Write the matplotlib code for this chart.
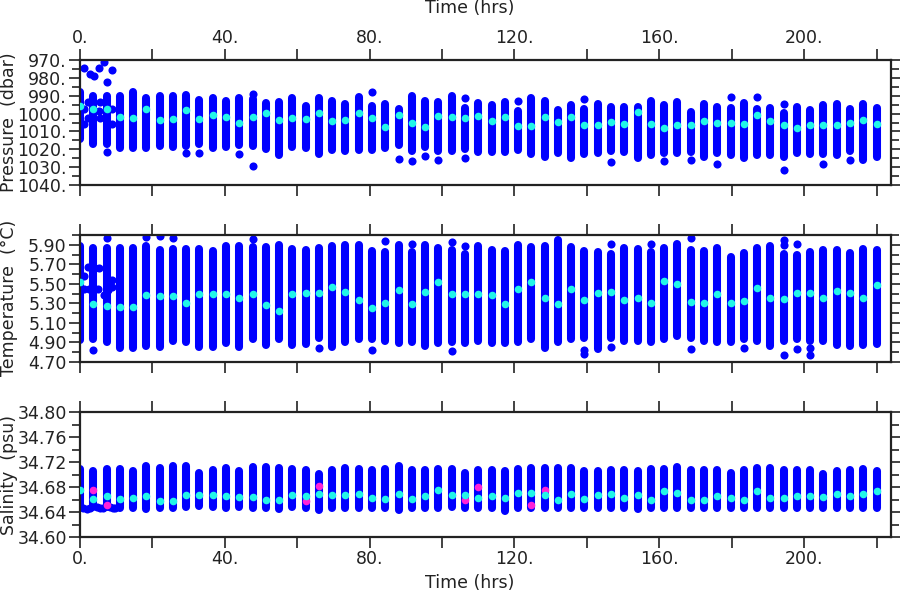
import matplotlib
matplotlib.use('Agg')
import matplotlib.pyplot as plt
from matplotlib.ticker import MultipleLocator, FuncFormatter

# profile times (hrs)
times = [0.0, 3.67, 7.33, 11.0, 14.67, 18.33, 22.0, 25.67, 29.33, 33.0,
         36.67, 40.33, 44.0, 47.67, 51.33, 55.0, 58.67, 62.33, 66.0, 69.67,
         73.33, 77.0, 80.67, 84.33, 88.0, 91.67, 95.33, 99.0, 102.67, 106.33,
         110.0, 113.67, 117.33, 121.0, 124.67, 128.33, 132.0, 135.67, 139.33, 143.0,
         146.67, 150.33, 154.0, 157.67, 161.33, 165.0, 168.67, 172.33, 176.0, 179.67,
         183.33, 187.0, 190.67, 194.33, 198.0, 201.67, 205.33, 209.0, 212.67, 216.33,
         220.0]

# pressure: shallowest / deepest of the main column, and mean
p_top = [988.1, 990.3, 990.3, 990.3, 988.1, 991.5, 990.0, 990.3, 989.6, 992.2,
         991.1, 993.0, 991.1, 992.0, 994.1, 993.7, 991.5, 995.9, 991.5, 993.0,
         994.8, 990.7, 995.6, 994.5, 997.4, 990.0, 993.0, 993.7, 990.0, 997.1,
         994.1, 995.2, 993.3, 998.4, 991.1, 993.0, 997.8, 995.2, 997.4, 994.8,
         996.3, 996.3, 996.3, 993.0, 995.2, 993.7, 998.9, 994.5, 996.3, 997.1,
         994.1, 997.4, 996.7, 999.7, 996.3, 998.2, 995.2, 994.8, 997.4, 994.8,
         996.7]
p_bot = [1014.4, 1017.0, 1017.0, 1019.1, 1019.1, 1019.1, 1018.0, 1018.8, 1018.2, 1017.2,
         1019.1, 1018.8, 1017.8, 1018.2, 1020.1, 1023.2, 1018.8, 1019.5, 1022.5, 1020.2,
         1021.0, 1020.6, 1020.6, 1019.5, 1017.6, 1021.0, 1018.7, 1021.0, 1021.0, 1020.0,
         1021.3, 1021.3, 1021.3, 1020.6, 1022.8, 1024.3, 1022.1, 1025.1, 1022.5, 1022.1,
         1021.0, 1021.7, 1024.7, 1023.2, 1021.9, 1022.1, 1021.3, 1024.3, 1021.9, 1023.2,
         1025.1, 1023.2, 1023.2, 1024.3, 1022.1, 1022.8, 1022.8, 1023.2, 1021.0, 1026.2,
         1024.3]
p_mean = [995.6, 997.3, 997.3, 1002.1, 1002.5, 997.6, 1003.8, 1002.9, 998.2, 1003.2,
          1001.0, 1002.1, 1005.3, 1001.7, 999.9, 1003.4, 1002.3, 1003.0, 999.9, 1004.2,
          1003.8, 999.9, 1002.3, 1007.7, 1000.8, 1005.3, 1007.7, 1001.5, 1001.7, 1002.7,
          1001.4, 1004.0, 1001.9, 1007.1, 1007.1, 1002.1, 1004.9, 1001.9, 1006.2, 1006.2,
          1004.7, 1005.7, 999.1, 1006.0, 1007.9, 1006.2, 1006.6, 1004.3, 1005.1, 1005.3,
          1005.7, 1000.6, 1004.3, 1006.4, 1008.3, 1006.2, 1006.2, 1006.2, 1005.1, 1003.8,
          1005.8]
p_out_idx = [2, 2, 8, 9, 12, 13, 13, 22, 24, 25, 26, 27, 29, 29, 33, 38, 40,
             44, 46, 48, 49, 51, 53, 53, 56, 58]
p_out_val = [982.5, 1021.3, 1022.1, 1022.1, 1022.5, 988.9, 1029.2, 988.1, 1025.6,
             1026.4, 1023.9, 1026.2, 991.5, 1025.1, 993.0, 991.8, 1026.9, 1026.6,
             1026.2, 1028.1, 990.9, 990.5, 994.8, 1031.8, 1028.4, 1026.0]
p_early_t = [1.2, 2.8, 4.0, 5.3, 6.5, 8.9, 1.2, 2.3, 5.6, 8.9, 2.3, 5.6, 8.9, 1.2, 5.2]
p_early_v = [974.7, 978.0, 978.8, 974.3, 971.3, 975.6, 997.4, 993.3, 993.3, 997.4,
             1002.3, 1002.3, 1006.0, 1006.0, 998.5]

# temperature
t_top = [5.883, 5.87, 5.87, 5.87, 5.87, 5.89, 5.85, 5.86, 5.86, 5.856,
         5.835, 5.89, 5.89, 5.876, 5.876, 5.90, 5.856, 5.842, 5.862, 5.89,
         5.90, 5.90, 5.835, 5.825, 5.90, 5.825, 5.897, 5.862, 5.842, 5.808,
         5.89, 5.842, 5.835, 5.893, 5.876, 5.883, 5.945, 5.876, 5.835, 5.821,
         5.808, 5.869, 5.856, 5.825, 5.862, 5.91, 5.849, 5.835, 5.862, 5.774,
         5.815, 5.862, 5.883, 5.808, 5.80, 5.821, 5.842, 5.849, 5.815, 5.856,
         5.842]
t_bot = [4.926, 4.933, 4.90, 4.847, 4.847, 4.864, 4.857, 4.912, 4.905, 4.857,
         4.857, 4.891, 4.857, 4.933, 4.878, 4.933, 4.878, 4.885, 4.95, 4.85,
         4.90, 4.933, 4.94, 4.915, 4.891, 4.90, 4.864, 4.891, 4.90, 4.891,
         4.915, 4.891, 4.891, 4.90, 4.933, 4.843, 4.90, 4.933, 4.95, 4.837,
         4.95, 4.918, 4.918, 4.90, 4.94, 4.967, 4.95, 4.915, 4.90, 4.90,
         4.94, 4.915, 4.864, 4.915, 4.933, 4.915, 4.915, 4.871, 4.864, 4.874,
         4.881]
t_mean = [5.517, 5.295, 5.274, 5.264, 5.264, 5.387, 5.374, 5.374, 5.305, 5.397,
          5.401, 5.401, 5.36, 5.401, 5.288, 5.227, 5.391, 5.408, 5.408, 5.466,
          5.418, 5.339, 5.254, 5.309, 5.435, 5.295, 5.421, 5.524, 5.397, 5.401,
          5.397, 5.387, 5.291, 5.452, 5.517, 5.353, 5.295, 5.449, 5.333, 5.408,
          5.418, 5.336, 5.353, 5.302, 5.531, 5.497, 5.319, 5.309, 5.391, 5.309,
          5.326, 5.456, 5.36, 5.346, 5.411, 5.404, 5.36, 5.425, 5.408, 5.36,
          5.49]
t_out_idx = [1, 2, 5, 6, 7, 13, 18, 22, 23, 25, 28, 28, 29, 38, 38, 40, 40, 43,
             46, 46, 50, 53, 53, 53, 54, 54, 55, 55]
t_out_val = [4.82, 5.97, 5.98, 5.985, 5.97, 5.96, 4.84, 4.823, 5.934, 5.907, 5.93,
             4.813, 5.89, 4.82, 4.782, 5.91, 4.85, 5.91, 5.972, 4.833, 4.844, 5.95,
             5.90, 4.768, 5.903, 4.83, 4.844, 4.768]
t_early_t = [1.2, 2.3, 4.1, 5.3, 1.2, 2.6, 5.0, 6.5, 7.8, 8.9, 8.9, 7.5]
t_early_v = [5.58, 5.67, 5.66, 5.66, 5.445, 5.445, 5.445, 5.39, 5.44, 5.54, 5.466, 5.558]

# salinity
s_top = [34.709, 34.705, 34.709, 34.709, 34.706, 34.713, 34.711, 34.713, 34.713, 34.703,
         34.707, 34.710, 34.706, 34.712, 34.712, 34.710, 34.709, 34.707, 34.701, 34.708,
         34.710, 34.709, 34.707, 34.709, 34.714, 34.708, 34.707, 34.709, 34.709, 34.703,
         34.708, 34.707, 34.706, 34.709, 34.710, 34.710, 34.711, 34.711, 34.706, 34.706,
         34.708, 34.707, 34.706, 34.709, 34.709, 34.712, 34.708, 34.707, 34.707, 34.702,
         34.708, 34.710, 34.711, 34.708, 34.707, 34.707, 34.701, 34.706, 34.707, 34.709,
         34.706]
s_bot = [34.648, 34.648, 34.648, 34.646, 34.646, 34.645, 34.646, 34.646, 34.648, 34.650,
         34.648, 34.646, 34.648, 34.646, 34.647, 34.645, 34.648, 34.647, 34.643, 34.646,
         34.646, 34.647, 34.647, 34.646, 34.643, 34.647, 34.647, 34.646, 34.648, 34.646,
         34.646, 34.646, 34.641, 34.647, 34.647, 34.647, 34.646, 34.647, 34.646, 34.646,
         34.647, 34.646, 34.645, 34.646, 34.646, 34.647, 34.646, 34.646, 34.647, 34.646,
         34.647, 34.647, 34.647, 34.646, 34.647, 34.647, 34.646, 34.646, 34.647, 34.647,
         34.647]
s_mean = [34.675, 34.661, 34.666, 34.661, 34.662, 34.666, 34.658, 34.658, 34.668, 34.668,
          34.667, 34.666, 34.664, 34.664, 34.660, 34.659, 34.668, 34.666, 34.669, 34.668,
          34.668, 34.669, 34.663, 34.661, 34.669, 34.661, 34.665, 34.676, 34.667, 34.668,
          34.662, 34.666, 34.662, 34.671, 34.671, 34.667, 34.660, 34.669, 34.661, 34.668,
          34.669, 34.663, 34.668, 34.659, 34.674, 34.670, 34.660, 34.660, 34.666, 34.662,
          34.660, 34.674, 34.662, 34.663, 34.666, 34.666, 34.664, 34.669, 34.666, 34.669,
          34.674]
s_flag_idx = [1, 2, 17, 18, 29, 30, 34, 35]
s_flag_val = [34.675, 34.652, 34.657, 34.682, 34.659, 34.680, 34.652, 34.675]
s_early_t = [0.9, 1.8, 2.7, 4.6, 5.5, 6.4, 8.2, 9.1, 9.8]
s_early_v = [34.646, 34.645, 34.647, 34.648, 34.646, 34.647, 34.648, 34.646, 34.647]

BLUE = '#0000ff'
CYAN = '#22f5e8'
PINK = '#ff22d8'
LW = 5.8
FS = 12.5
INK = '#222222'

plt.rcParams['font.family'] = ['DejaVu Sans']
fig = plt.figure(figsize=(9, 6), dpi=100)

ax1 = fig.add_axes([80/900, 1-185/600, 811/900, 125/600])
ax2 = fig.add_axes([80/900, 1-362/600, 811/900, 127/600])
ax3 = fig.add_axes([80/900, 1-537/600, 811/900, 125/600])


def draw_panel(ax, top, bot, mean, out_idx, out_val, early_t, early_v):
    lc = ax.vlines(times, bot, top, colors=BLUE, linewidth=LW, zorder=2)
    lc.set_capstyle('round')
    ax.scatter([times[i] for i in out_idx], out_val, s=34, color=BLUE,
               linewidths=0, zorder=2)
    ax.scatter(early_t, early_v, s=34, color=BLUE, linewidths=0, zorder=2)
    ax.scatter(times, mean, s=30, color=CYAN, linewidths=0, zorder=4)


draw_panel(ax1, p_top, p_bot, p_mean, p_out_idx, p_out_val, p_early_t, p_early_v)
draw_panel(ax2, t_top, t_bot, t_mean, t_out_idx, t_out_val, t_early_t, t_early_v)
draw_panel(ax3, s_top, s_bot, s_mean, [], [], s_early_t, s_early_v)
ax3.scatter([times[i] for i in s_flag_idx], s_flag_val, s=30, color=PINK,
            linewidths=0, zorder=3)

ax1.set_ylim(1040, 970)
ax1.yaxis.set_major_locator(MultipleLocator(10))
ax1.yaxis.set_minor_locator(MultipleLocator(5))
ax1.yaxis.set_major_formatter(FuncFormatter(lambda v, p: '%d.' % round(v)))

ax2.set_ylim(4.70, 6.00)
ax2.set_yticks([4.7, 4.9, 5.1, 5.3, 5.5, 5.7, 5.9])
ax2.yaxis.set_minor_locator(MultipleLocator(0.1))
ax2.yaxis.set_major_formatter(FuncFormatter(lambda v, p: '%.2f' % v))

ax3.set_ylim(34.60, 34.80)
ax3.yaxis.set_major_locator(MultipleLocator(0.04))
ax3.yaxis.set_minor_locator(MultipleLocator(0.02))
ax3.yaxis.set_major_formatter(FuncFormatter(lambda v, p: '%.2f' % v))

xfmt = FuncFormatter(lambda v, p: ('%d.' % round(v)) if round(v) % 40 == 0 else '')
for ax in (ax1, ax2, ax3):
    ax.set_xlim(0, 224)
    ax.xaxis.set_major_locator(MultipleLocator(20))
    ax.xaxis.set_major_formatter(xfmt)
    for s in ax.spines.values():
        s.set_linewidth(1.6)
        s.set_color(INK)
    ax.tick_params(which='both', direction='out', length=8, width=1.2,
                   color=INK, top=True, bottom=True, left=True, right=True,
                   labelsize=FS, labelcolor=INK, pad=1.5)
    ax.tick_params(axis='y', which='minor', length=6)
    ax.tick_params(labelbottom=False, labeltop=False, labelright=False)

ax1.tick_params(labeltop=True)
ax3.tick_params(labelbottom=True)

fig.text(470/900, 1-8/600, 'Time (hrs)', ha='center', va='center', fontsize=FS, color=INK)
fig.text(470/900, 1-583/600, 'Time (hrs)', ha='center', va='center', fontsize=FS, color=INK)
fig.text(9/900, 1-122/600, 'Pressure  (dbar)', rotation=90, ha='center', va='center',
         fontsize=FS, color=INK)
fig.text(9/900, 1-298/600, 'Temperature  (\u00b0C)', rotation=90, ha='center', va='center',
         fontsize=FS, color=INK)
fig.text(9/900, 1-475/600, 'Salinity  (psu)', rotation=90, ha='center', va='center',
         fontsize=FS, color=INK)

fig.savefig('out.png', dpi=100)
